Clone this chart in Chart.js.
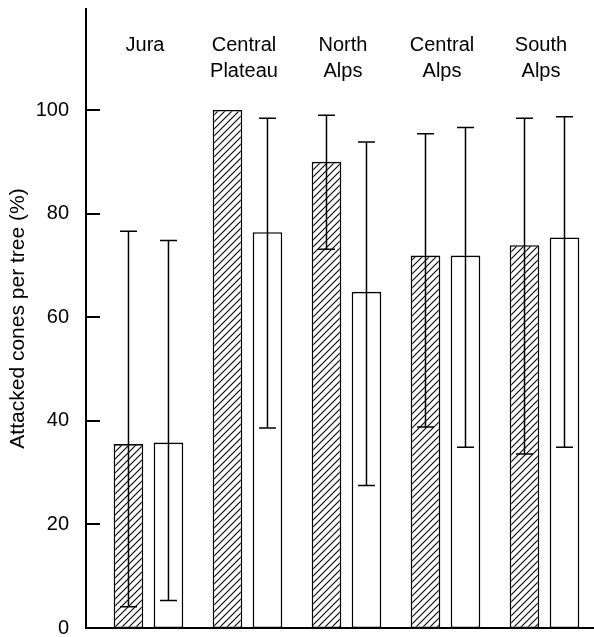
<!DOCTYPE html>
<html>
<head>
<meta charset="utf-8">
<script src="https://cdn.jsdelivr.net/npm/chart.js@4"></script>
<style>
  html, body { margin: 0; padding: 0; background: #fff; }
  #wrap { width: 594px; height: 637px; position: relative; }
</style>
</head>
<body>
<div id="wrap"><canvas id="c"></canvas></div>
<script>
const categories = ['Jura', 'Central Plateau', 'North Alps', 'Central Alps', 'South Alps'];
const hatchedValues  = [35.5, 100, 90.0, 71.9, 73.9];
const hatchedErrLow  = [4.1, null, 73.1, 38.8, 33.6];
const hatchedErrHigh = [76.6, null, 99.0, 95.4, 98.4];
const openValues     = [35.8, 76.4, 64.9, 71.9, 75.4];
const openErrLow     = [5.3, 38.6, 27.5, 34.9, 34.9];
const openErrHigh    = [74.8, 98.4, 93.8, 96.6, 98.7];
const yTicks = [0, 20, 40, 60, 80, 100];
const yTitle = 'Attacked cones per tree (%)';

const FONT = '"Liberation Sans", Arial, Helvetica, sans-serif';
Chart.defaults.font.family = FONT;
Chart.defaults.color = '#000';

function makeHatch() {
  const s = 7;
  const c = document.createElement('canvas');
  c.width = s; c.height = s;
  const g = c.getContext('2d');
  g.fillStyle = '#fff';
  g.fillRect(0, 0, s, s);
  g.strokeStyle = '#000';
  g.lineWidth = 1.1;
  g.beginPath();
  g.moveTo(-1, s + 1); g.lineTo(s + 1, -1);
  g.moveTo(-1, 1); g.lineTo(1, -1);
  g.moveTo(s - 1, s + 1); g.lineTo(s + 1, s - 1);
  g.stroke();
  return g.createPattern(c, 'repeat');
}

const errSets = [
  { low: hatchedErrLow, high: hatchedErrHigh },
  { low: openErrLow, high: openErrHigh }
];

const decorPlugin = {
  id: 'decor',
  afterDatasetsDraw(chart) {
    const ctx = chart.ctx;
    const xS = chart.scales.x, yS = chart.scales.y;
    const area = chart.chartArea;
    ctx.save();
    // error bars
    ctx.strokeStyle = '#000';
    ctx.lineWidth = 1.5;
    errSets.forEach((es, di) => {
      const meta = chart.getDatasetMeta(di);
      meta.data.forEach((bar, i) => {
        const lo = es.low[i], hi = es.high[i];
        if (lo == null || hi == null) return;
        const x = bar.x;
        const y1 = yS.getPixelForValue(lo), y2 = yS.getPixelForValue(hi);
        const cap = 8.5;
        ctx.beginPath();
        ctx.moveTo(x, y1); ctx.lineTo(x, y2);
        ctx.moveTo(x - cap, y1); ctx.lineTo(x + cap, y1);
        ctx.moveTo(x - cap, y2); ctx.lineTo(x + cap, y2);
        ctx.stroke();
      });
    });
    // inward tick marks
    ctx.lineWidth = 2;
    yTicks.forEach(v => {
      const y = Math.round(yS.getPixelForValue(v));
      ctx.beginPath();
      ctx.moveTo(area.left, y); ctx.lineTo(area.left + 14, y);
      ctx.stroke();
    });
    // category labels
    ctx.fillStyle = '#000';
    ctx.font = '20px ' + FONT;
    ctx.textAlign = 'center';
    ctx.textBaseline = 'middle';
    categories.forEach((cat, i) => {
      const x = xS.getPixelForValue(i) - 3.5;
      cat.split(' ').forEach((line, li) => {
        ctx.fillText(line, x, area.top + 36 + li * 26);
      });
    });
    ctx.restore();
  }
};

const hatch = makeHatch();

new Chart(document.getElementById('c'), {
  type: 'bar',
  data: {
    datasets: [
      {
        label: 'hatched',
        data: hatchedValues.map((v, i) => ({ x: i, y: v })),
        backgroundColor: hatch,
        borderColor: '#000',
        borderWidth: 1.6,
        borderSkipped: false,
        barPercentage: 0.74,
        categoryPercentage: 0.808
      },
      {
        label: 'open',
        data: openValues.map((v, i) => ({ x: i, y: v })),
        backgroundColor: '#fff',
        borderColor: '#000',
        borderWidth: 1.6,
        borderSkipped: false,
        barPercentage: 0.74,
        categoryPercentage: 0.808
      }
    ]
  },
  options: {
    responsive: true,
    maintainAspectRatio: false,
    animation: false,
    layout: { padding: { top: 9, bottom: 9, left: 0, right: 0 } },
    plugins: { legend: { display: false }, tooltip: { enabled: false } },
    scales: {
      x: {
        type: 'linear',
        min: -0.631,
        max: 4.5,
        offset: false,
        grid: { display: false },
        ticks: { display: false },
        border: { display: true, color: '#000', width: 2 },
        afterBuildTicks: s => { s.ticks = categories.map((_, i) => ({ value: i })); },
        afterFit: s => { s.height = 0; s.paddingLeft = 0; s.paddingRight = 0; }
      },
      y: {
        min: 0,
        max: 119.5,
        grid: { display: false },
        border: { display: true, color: '#000', width: 2 },
        ticks: { padding: 9, font: { size: 20 }, color: '#000' },
        afterBuildTicks: s => { s.ticks = yTicks.map(v => ({ value: v })); },
        afterFit: s => { s.width = 86; s.paddingTop = 0; s.paddingBottom = 0; },
        title: {
          display: true,
          text: yTitle,
          font: { size: 21 },
          color: '#000',
          padding: { top: 6, bottom: 0 }
        }
      }
    }
  },
  plugins: [decorPlugin]
});
</script>
</body>
</html>
